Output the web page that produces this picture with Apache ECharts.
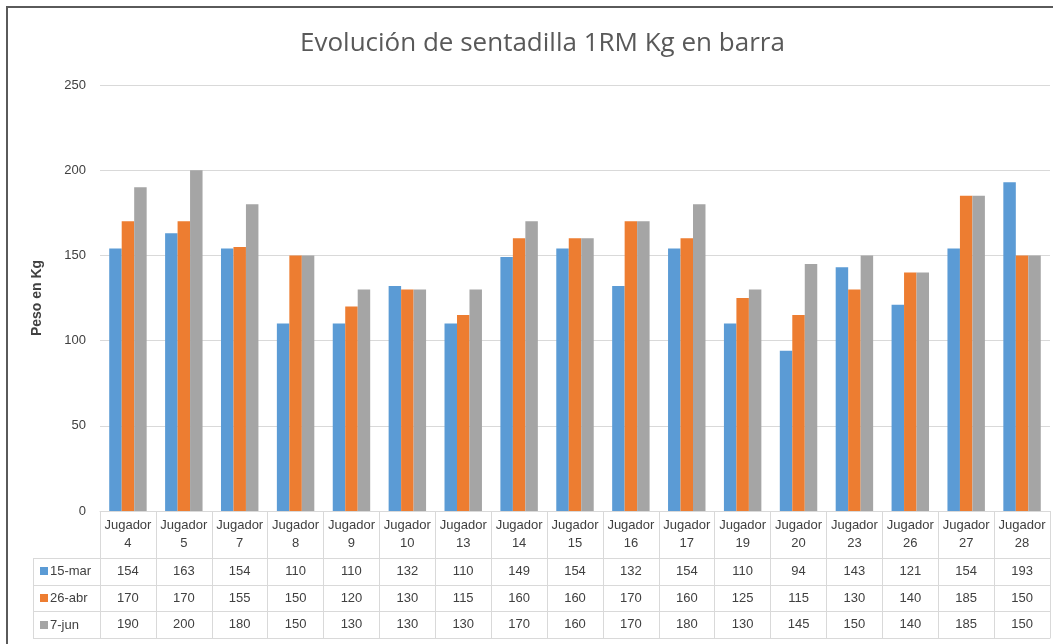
<!DOCTYPE html>
<html>
<head>
<meta charset="utf-8">
<script src="https://cdn.jsdelivr.net/npm/echarts@6/dist/echarts.min.js"></script>
<style>
html,body{margin:0;padding:0;background:#fff;}
#chart{width:1053px;height:644px;}
</style>
</head>
<body>
<div id="chart"></div>
<script>
var categories = ['Jugador\n4','Jugador\n5','Jugador\n7','Jugador\n8','Jugador\n9','Jugador\n10','Jugador\n13','Jugador\n14','Jugador\n15','Jugador\n16','Jugador\n17','Jugador\n19','Jugador\n20','Jugador\n23','Jugador\n26','Jugador\n27','Jugador\n28'];
var seriesNames = ['15-mar','26-abr','7-jun'];
var mar15 = [154,163,154,110,110,132,110,149,154,132,154,110,94,143,121,154,193];
var abr26 = [170,170,155,150,120,130,115,160,160,170,160,125,115,130,140,185,150];
var jun7  = [190,200,180,150,130,130,130,170,160,170,180,130,145,150,140,185,150];
var yTicks = [0,50,100,150,200,250];

var colors = ['#5B9BD5','#ED7D31','#A5A5A5'];
var seriesValues = [mar15, abr26, jun7];
var FONT = 'Liberation Sans';
var GRID_LEFT = 100, GRID_RIGHT = 3, GRID_TOP = 85, ZERO_Y = 511;
var LINE = '#d9d9d9', TXT = '#404040';

var chart = echarts.init(document.getElementById('chart'));

var rowOffsets = [47, 74, 100];
var xAxes = [{
  type: 'category', data: categories, position: 'bottom', gridIndex: 0,
  axisLine: {show: true, lineStyle: {color: LINE, width: 1}},
  axisTick: {show: true, interval: 0, length: 127, lineStyle: {color: LINE, width: 1}},
  axisLabel: {interval: 0, margin: 5, fontFamily: FONT, fontSize: 13, lineHeight: 18, color: TXT}
}];
seriesValues.forEach(function (vals, k) {
  xAxes.push({
    type: 'category', data: categories, position: 'bottom', offset: rowOffsets[k], gridIndex: 0,
    axisLine: {show: true, lineStyle: {color: LINE, width: 1}},
    axisTick: {show: false},
    axisLabel: {interval: 0, margin: 6, fontFamily: FONT, fontSize: 13, lineHeight: 15, color: TXT,
      formatter: function (v, i) { return String(vals[i]); }}
  });
});
xAxes.push({
  type: 'category', data: categories, position: 'bottom', offset: 127, gridIndex: 0,
  axisLine: {show: true, lineStyle: {color: LINE, width: 1}},
  axisTick: {show: false}, axisLabel: {show: false}
});

var legendTops = [564, 591, 618];
var legends = seriesNames.map(function (n, k) {
  return {
    data: [n], orient: 'vertical', left: 40, top: legendTops[k], padding: 0,
    icon: 'rect', itemWidth: 8, itemHeight: 8, itemGap: 0, selectedMode: false,
    textStyle: {fontFamily: FONT, fontSize: 13, lineHeight: 14, color: TXT, padding: [0,0,0,-3]}
  };
});

var series = seriesNames.map(function (n, k) {
  return {
    name: n, type: 'bar', xAxisIndex: 0, yAxisIndex: 0,
    data: seriesValues[k], itemStyle: {color: colors[k]},
    barGap: '0%', barCategoryGap: '33%', silent: true
  };
});

var legendLines = [];
[558, 585, 611, 638].forEach(function (y) {
  legendLines.push({type: 'line', shape: {x1: 33, y1: y + 0.5, x2: GRID_LEFT, y2: y + 0.5},
    style: {stroke: LINE, lineWidth: 1}, silent: true});
});
legendLines.push({type: 'line', shape: {x1: 33.5, y1: 558, x2: 33.5, y2: 638},
  style: {stroke: LINE, lineWidth: 1}, silent: true});
legendLines.push({type: 'rect', shape: {x: 7, y: 7, width: 1200, height: 800},
  style: {fill: null, stroke: '#5a5a5a', lineWidth: 2}, silent: true});

chart.setOption({
  animation: false,
  backgroundColor: '#ffffff',
  title: {
    text: 'Evolución de sentadilla 1RM Kg en barra', left: 295, top: 26,
    textStyle: {fontFamily: 'Open Sans', fontWeight: 'normal', fontSize: 26, color: '#595959'}
  },
  grid: {left: GRID_LEFT, right: GRID_RIGHT, top: GRID_TOP, bottom: 644 - ZERO_Y, containLabel: false},
  legend: legends,
  xAxis: xAxes,
  yAxis: {
    type: 'value', min: yTicks[0], max: yTicks[yTicks.length - 1], interval: 50,
    name: 'Peso en Kg', nameLocation: 'middle', nameGap: 56, nameRotate: 90,
    nameTextStyle: {fontFamily: FONT, fontSize: 14, fontWeight: 'bold', color: TXT},
    axisLine: {show: false}, axisTick: {show: false},
    axisLabel: {margin: 14, fontFamily: FONT, fontSize: 13, color: TXT},
    splitLine: {lineStyle: {color: LINE, width: 1}}
  },
  series: series,
  graphic: legendLines
});
</script>
</body>
</html>
